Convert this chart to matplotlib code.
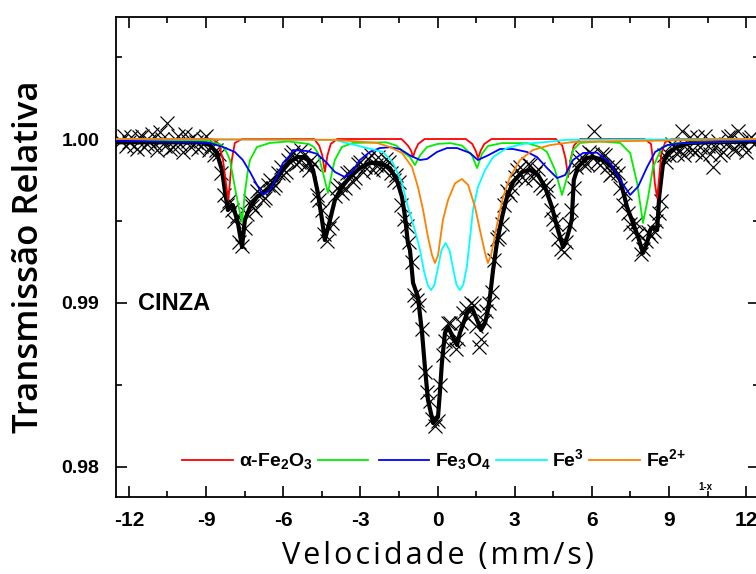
import matplotlib
matplotlib.use("Agg")
import matplotlib.pyplot as plt
from matplotlib.lines import Line2D

plt.rcParams['mathtext.fontset'] = 'custom'
plt.rcParams['mathtext.rm'] = 'Liberation Sans:bold'
plt.rcParams['mathtext.default'] = 'rm'

# experimental points (velocity mm/s, relative transmission), even channels
data_pts = [(-12.3, .9999), (-12.1, .9996), (-11.9, 1.0001), (-11.7, .9994), (-11.5, 1.0002),
            (-11.3, .9997), (-11.1, 1.0003), (-10.9, .9993), (-10.7, 1.0000), (-10.5, 1.0010),
            (-10.3, .9995), (-10.1, 1.0002), (-9.9, .9992), (-9.7, .9999), (-9.5, 1.0001),
            (-9.3, .9994), (-9.1, 1.0000), (-8.9, .9993), (-8.7, .9990), (-8.5, .9991),
            (-8.3, .9966), (-8.1, .9962), (-7.9, .9950), (-7.7, .9937), (-7.5, .9946),
            (-7.3, .9962), (-7.1, .9957), (-6.9, .9970), (-6.7, .9964), (-6.5, .9975),
            (-6.3, .9972), (-6.1, .9983), (-5.9, .9980), (-5.7, .9990), (-5.5, .9985),
            (-5.3, .9993), (-5.1, .9984), (-4.9, .9987), (-4.7, .9966), (-4.5, .9957),
            (-4.3, .9938), (-4.1, .9949), (-3.9, .9970), (-3.7, .9967), (-3.5, .9979),
            (-3.3, .9974), (-3.1, .9985), (-2.9, .9980), (-2.7, .9988), (-2.5, .9981),
            (-2.3, .9989), (-2.1, .9982), (-1.9, .9986), (-1.7, .9975), (-1.5, .9974),
            (-1.3, .9951), (-1.1, .9937), (-0.9, .9905), (-0.7, .9899), (-0.5, .9858),
            (-0.3, .9840), (-0.1, .9825), (0.1, .9850), (0.3, .9877), (0.5, .9888),
            (0.7, .9872), (0.9, .9888), (1.1, .9897), (1.3, .9900), (1.5, .9886),
            (1.7, .9878), (1.9, .9895), (2.1, .9907), (2.3, .9939), (2.5, .9948),
            (2.7, .9968), (2.9, .9970), (3.1, .9981), (3.3, .9977), (3.5, .9985),
            (3.7, .9976), (3.9, .9982), (4.1, .9970), (4.3, .9968), (4.5, .9951),
            (4.7, .9939), (4.9, .9931), (5.1, .9948), (5.3, .9970), (5.5, .9987),
            (5.7, .9984), (5.9, .9992), (6.1, 1.0005), (6.3, .9984), (6.5, .9990),
            (6.7, .9978), (6.9, .9984), (7.1, .9970), (7.3, .9967), (7.5, .9948),
            (7.7, .9949), (7.9, .9930), (8.1, .9938), (8.3, .9941), (8.5, .9950),
            (8.7, .9962), (8.9, .9986), (9.1, .9997), (9.3, .9991), (9.5, 1.0005),
            (9.7, .9994), (9.9, .9993), (10.1, 1.0001), (10.3, .9990), (10.5, .9996),
            (10.7, .9983), (10.9, .9999), (11.1, .9992), (11.3, 1.0001), (11.5, .9994),
            (11.7, 1.0005), (11.9, .9996), (12.1, 1.0000), (12.3, .9997)]

# odd channels
data_pts_odd = [(-12.2, 1.0002), (-12.0, .9998), (-11.8, .9996), (-11.6, 1.0001), (-11.4, .9995),
                (-11.2, .9999), (-11.0, .9997), (-10.8, 1.0004), (-10.6, .9996), (-10.4, .9994),
                (-10.2, 1.0000), (-10.0, .9997), (-9.8, 1.0003), (-9.6, .9995), (-9.4, .9998),
                (-9.2, .9996), (-9.0, 1.0002), (-8.8, .9996), (-8.6, .9993), (-8.4, .9979),
                (-8.2, .9960), (-8.0, .9957), (-7.8, .9953), (-7.6, .9935), (-7.4, .9954),
                (-7.2, .9959), (-7.0, .9968), (-6.8, .9963), (-6.6, .9972), (-6.4, .9970),
                (-6.2, .9979), (-6.0, .9978), (-5.8, .9987), (-5.6, .9992), (-5.4, .9986),
                (-5.2, .9990), (-5.0, .9981), (-4.8, .9985), (-4.6, .9963), (-4.4, .9942),
                (-4.2, .9946), (-4.0, .9965), (-3.8, .9972), (-3.6, .9970), (-3.4, .9980),
                (-3.2, .9976), (-3.0, .9986), (-2.8, .9983), (-2.6, .9990), (-2.4, .9984),
                (-2.2, .9983), (-2.0, .9988), (-1.8, .9979), (-1.6, .9978), (-1.4, .9960),
                (-1.2, .9947), (-1.0, .9925), (-0.8, .9902), (-0.6, .9884), (-0.4, .9846),
                (-0.2, .9829), (0.0, .9828), (0.2, .9868), (0.4, .9888), (0.6, .9877),
                (0.8, .9878), (1.0, .9894), (1.2, .9891), (1.4, .9899), (1.6, .9873),
                (1.8, .9889), (2.0, .9900), (2.2, .9926), (2.4, .9940), (2.6, .9960),
                (2.8, .9966), (3.0, .9977), (3.2, .9983), (3.4, .9975), (3.6, .9984),
                (3.8, .9979), (4.0, .9972), (4.2, .9972), (4.4, .9957), (4.6, .9948),
                (4.8, .9933), (5.0, .9937), (5.2, .9957), (5.4, .9983), (5.6, .9989),
                (5.8, .9985), (6.0, .9991), (6.2, .9986), (6.4, .9991), (6.6, .9983),
                (6.8, .9979), (7.0, .9979), (7.2, .9960), (7.4, .9955), (7.6, .9943),
                (7.8, .9942), (8.0, .9933), (8.2, .9943), (8.4, .9944), (8.6, .9955),
                (8.8, .9990), (9.0, .9990), (9.2, .9995), (9.4, .9993), (9.6, .9990),
                (9.8, 1.0001), (10.0, .9992), (10.2, .9995), (10.4, 1.0002), (10.6, .9991),
                (10.8, .9995), (11.0, .9990), (11.2, .9997), (11.4, 1.0002), (11.6, .9993),
                (11.8, .9998), (12.0, .9992), (12.2, 1.0001)]

# total fit
fit_pts = [(-12.5, .9998), (-9.2, .9998), (-8.85, .99963), (-8.58, .99915), (-8.38, .99811),
           (-8.27, .99689), (-8.15, .99567), (-8.05, .9959), (-7.96, .99598), (-7.76, .99488),
           (-7.60, .99341), (-7.49, .99506), (-7.29, .99585), (-7.02, .99646), (-6.79, .99671),
           (-6.52, .99701), (-6.24, .99762), (-6.01, .99811), (-5.74, .9986), (-5.43, .9989),
           (-5.23, .9989), (-5.04, .99872), (-4.84, .99811), (-4.65, .99671), (-4.49, .99506),
           (-4.38, .99384), (-4.18, .99506), (-3.99, .99628), (-3.72, .99707), (-3.40, .99768),
           (-3.02, .99823), (-2.63, .99854), (-2.24, .99854), (-1.85, .99823), (-1.58, .9975),
           (-1.38, .99646), (-1.26, .99524), (-1.15, .99366), (-1.07, .99323), (-0.95, .99122),
           (-0.76, .99037), (-0.60, .98817), (-0.49, .9861), (-0.37, .98409), (-0.17, .98268),
           (0.02, .98305), (0.10, .9847), (0.17, .98634), (0.29, .98817), (0.41, .98854),
           (0.60, .98793), (0.76, .98744), (0.87, .98817), (1.15, .98939), (1.34, .9897),
           (1.54, .98896), (1.69, .98835), (1.85, .98878), (1.96, .98957), (2.04, .99037),
           (2.16, .99201), (2.31, .99366), (2.51, .99524), (2.70, .99646), (2.94, .99738),
           (3.29, .99799), (3.60, .99811), (3.91, .9978), (4.18, .99707), (4.45, .99585),
           (4.65, .99463), (4.88, .99341), (5.04, .99402), (5.15, .99463), (5.22, .9951),
           (5.30, .9975), (5.46, .99829), (5.81, .99884), (6.05, .9989), (6.44, .99872),
           (6.83, .99823), (7.10, .9975), (7.37, .99585), (7.60, .99488), (7.80, .99402),
           (7.99, .99305), (8.15, .99366), (8.27, .99445), (8.38, .99463), (8.54, .99445),
           (8.62, .9965), (8.77, .99854), (8.96, .99915), (9.31, .99951), (9.82, .99976),
           (10.6, .9998), (12.5, .99985)]

# alpha-Fe2O3 sextet (red)
hem_pts = [(-12.5, 1.0), (-8.75, 1.0), (-8.5, .9997), (-8.34, .99872), (-8.19, .99689),
           (-8.13, .99628), (-8.0, .9987), (-7.88, .99976), (-7.6, 1.0), (-4.8, 1.0),
           (-4.6, .9996), (-4.48, .9990), (-4.38, .9980), (-4.28, .9990), (-4.15, .9997),
           (-3.9, 1.0), (-1.4, 1.0), (-1.15, .9996), (-1.03, .9993), (-0.95, .9989),
           (-0.87, .9993), (-0.75, .9997), (-0.5, 1.0), (1.1, 1.0), (1.35, .9997),
           (1.48, .9993), (1.58, .99884), (1.68, .9993), (1.82, .9997), (2.1, 1.0),
           (4.6, 1.0), (4.85, .9996), (4.98, .9988), (5.08, .99768), (5.18, .9988),
           (5.3, .9996), (5.55, 1.0), (8.05, 1.0), (8.3, .9997), (8.38, .9987),
           (8.45, .9973), (8.54, .9964), (8.62, .9977), (8.7, .9991), (8.85, .9998),
           (9.1, 1.0), (12.5, 1.0)]

# Fe3O4 site A (green)
mag_a_pts = [(-12.5, .99995), (-9.0, .9999), (-8.4, .99965), (-8.2, .9992), (-8.07, .99872),
             (-7.88, .99707), (-7.72, .9958), (-7.60, .99494), (-7.49, .99671), (-7.38, .9980),
             (-7.29, .99872), (-7.02, .99951), (-6.52, .99976), (-5.8, .99985), (-5.0, .9997),
             (-4.8, .9995), (-4.65, .99915), (-4.45, .99793), (-4.26, .99671), (-4.10, .9980),
             (-3.99, .99872), (-3.72, .99951), (-3.3, .99976), (-2.0, .9998), (-1.6, .9996),
             (-1.34, .9992), (-1.07, .9989), (-0.88, .99841), (-0.68, .9990), (-0.41, .99951),
             (0.0, .9997), (0.5, .99975), (0.95, .9996), (1.15, .9993), (1.34, .9990),
             (1.54, .99823), (1.73, .9991), (1.96, .99957), (2.5, .99975), (3.5, .99975),
             (4.0, .9995), (4.26, .9992), (4.57, .99811), (4.84, .99659), (5.04, .99768),
             (5.27, .99933), (5.54, .99976), (6.3, .99985), (7.10, .99976), (7.49, .99915),
             (7.76, .99732), (7.99, .99488), (8.19, .99646), (8.38, .99829), (8.73, .99951),
             (9.31, .99976), (12.5, .9999)]

# Fe3O4 site B (blue)
mag_b_pts = [(-12.5, .9999), (-9.5, .9998), (-8.85, .99976), (-8.34, .99951), (-7.88, .99921),
             (-7.57, .99872), (-7.29, .99799), (-7.02, .9972), (-6.79, .99659), (-6.52, .99689),
             (-6.24, .99768), (-6.01, .99854), (-5.74, .9990), (-5.62, .99933), (-5.08, .99927),
             (-4.69, .9991), (-4.30, .99854), (-3.99, .99799), (-3.60, .99768), (-3.33, .99799),
             (-3.02, .99872), (-2.63, .99921), (-2.24, .99945), (-1.85, .9995), (-1.46, .99939),
             (-1.07, .9990), (-0.68, .99872), (-0.41, .99878), (-0.02, .99921), (0.37, .99945),
             (0.76, .99945), (1.26, .99915), (1.57, .99872), (1.96, .9990), (2.43, .99939),
             (2.94, .99939), (3.48, .99921), (3.87, .9989), (4.26, .99823), (4.65, .99762),
             (4.96, .9978), (5.27, .99872), (5.66, .99915), (6.20, .99917), (6.71, .99854),
             (7.10, .9975), (7.49, .99659), (7.80, .9971), (8.15, .99829), (8.46, .99921),
             (8.93, .99963), (9.55, .99976), (10.87, .99982), (12.5, .99988)]

# Fe3+ doublet (cyan)
fe3_pts = [(-12.5, 1.0), (-4.0, .99995), (-2.9, .99951), (-2.12, .99921), (-1.73, .99854),
           (-1.38, .99732), (-1.15, .99585), (-0.88, .99445), (-0.68, .99323), (-0.52, .9919),
           (-0.38, .9911), (-0.25, .99079), (-0.12, .9911), (0.0, .9920), (0.15, .9932),
           (0.31, .99366), (0.47, .9932), (0.62, .9920), (0.74, .9911), (0.87, .99079),
           (1.0, .9911), (1.14, .9922), (1.28, .9942), (1.38, .99567), (1.57, .99707),
           (1.85, .99811), (2.16, .9989), (2.70, .99945), (3.32, .9997), (4.26, .99982),
           (5.0, .99995), (12.5, 1.0)]

# Fe2+ doublet (orange)
fe2_pts = [(-12.5, 1.0), (-4.0, .99995), (-2.35, .99976), (-1.85, .99951), (-1.38, .99915),
           (-0.99, .99829), (-0.76, .99707), (-0.56, .99567), (-0.37, .99402), (-0.21, .9929),
           (-0.10, .99244), (0.02, .9929), (0.21, .99506), (0.41, .99628), (0.68, .9973),
           (0.95, .99756), (1.19, .9972), (1.46, .99585), (1.65, .99445), (1.85, .99305),
           (1.96, .99244), (2.08, .9929), (2.35, .99506), (2.55, .99646), (2.82, .99768),
           (3.21, .99872), (3.71, .99933), (4.38, .99963), (5.27, .99982), (12.5, 1.0)]

components = [("hem", hem_pts, "#ff0000"), ("magA", mag_a_pts, "#00ee00"),
              ("magB", mag_b_pts, "#0000ff"), ("fe3", fe3_pts, "#00ffff"),
              ("fe2", fe2_pts, "#ff8000")]

legend_labels = [r"$\alpha$-Fe$_2$O$_3$", "", "Fe$_3$O$_4$", "Fe$^3$", "Fe$^{2\!+}$"]

x_ticks = [-12, -9, -6, -3, 0, 3, 6, 9, 12]
y_ticks = [0.98, 0.99, 1.00]

fig = plt.figure(figsize=(7.56, 5.74), dpi=100)
ax = fig.add_axes([116 / 756, 1 - 497 / 574, 643 / 756, 480 / 574])

dv, dt = zip(*(data_pts + data_pts_odd))
ax.plot(dv, dt, linestyle="none", marker="x", markersize=10, markeredgewidth=0.85,
        color="black", zorder=2)
fv, ft = zip(*fit_pts)
ax.plot(fv, ft, color="black", lw=3, zorder=3)
handles = []
for name, pts, col in components:
    cv, ct = zip(*pts)
    ax.plot(cv, ct, color=col, lw=1.3, zorder=4)
    handles.append(Line2D([], [], color=col, lw=1.3))

ax.set_xlim(-12.5, 12.5)
ax.set_ylim(0.97817, 1.00744)
ax.set_xticks(x_ticks)
ax.set_xticks([-10.5, -7.5, -4.5, -1.5, 1.5, 4.5, 7.5, 10.5], minor=True)
ax.set_yticks(y_ticks)
ax.set_yticks([0.985, 0.995, 1.005], minor=True)
ax.set_xticklabels([str(t) for t in x_ticks])
ax.set_yticklabels(["%.2f" % t for t in y_ticks])

tick_font = ['Liberation Sans Narrow', 'Liberation Sans', 'DejaVu Sans']
ax.tick_params(which="both", direction="in", top=True, right=True, width=1.2)
ax.tick_params(which="major", length=8)
ax.tick_params(which="minor", length=4)
ax.tick_params(axis="x", pad=10)
ax.tick_params(axis="y", pad=12)
for lab in ax.get_xticklabels():
    lab.set_family(tick_font)
    lab.set_fontweight("bold")
    lab.set_fontsize(15)
for lab in ax.get_yticklabels():
    lab.set_family(tick_font)
    lab.set_fontweight("bold")
    lab.set_fontsize(14)
for sp in ax.spines.values():
    sp.set_linewidth(1.3)

ax.set_ylabel("Transmissão Relativa", family=['Open Sans', 'DejaVu Sans'],
              fontsize=25, fontweight="semibold", labelpad=11)
ax.set_xlabel("\u200a".join("Velocidade (mm/s)"), family=['Open Sans', 'DejaVu Sans'],
              fontsize=22, labelpad=8)

ax.text(-11.65, 0.98994, "CINZA", family="Liberation Sans", fontweight="bold",
        fontsize=17, va="center", ha="left")

leg = ax.legend(handles, legend_labels, ncol=5, loc="center",
                bbox_to_anchor=(0.495, 0.077), frameon=False, handlelength=2.6,
                handletextpad=0.3, columnspacing=0.25,
                prop={'family': 'Liberation Sans', 'weight': 'bold', 'size': 14})
ax.text(10.4, 0.97878, "1-x", family="Liberation Sans", fontweight="bold",
        fontsize=7, ha="center", va="center")

fig.savefig("out.png", dpi=100)
